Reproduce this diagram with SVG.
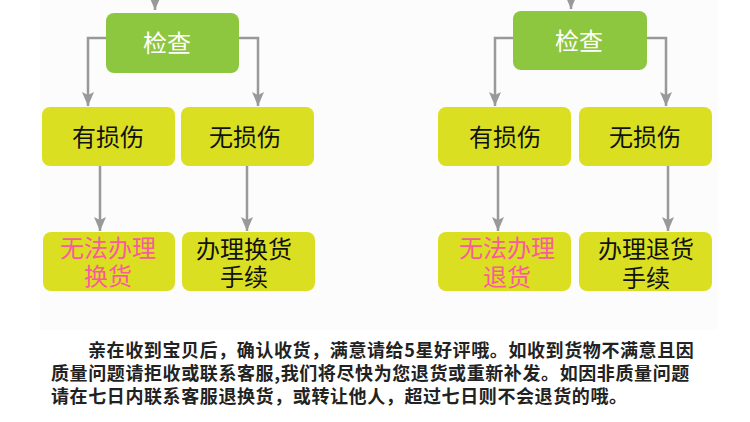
<svg xmlns="http://www.w3.org/2000/svg" width="750" height="422" viewBox="0 0 750 422">
<defs>
<style>
.g{fill:#8dc63f}
.y{fill:#dae021}
.t{font-family:"Noto Sans CJK SC","Noto Sans",sans-serif;font-size:24px;text-anchor:middle;fill:#111}
.w{fill:#ffffff}
.p{fill:#fa5a9e}
.c{fill:none;stroke:#999999;stroke-width:2.5}
.b{font-family:"Noto Sans CJK SC","Noto Sans",sans-serif;font-size:18px;font-weight:700;fill:#222;letter-spacing:0.6px}
</style>
<marker id="ah" viewBox="0 0 14 12" refX="14" refY="6" markerWidth="14" markerHeight="12" markerUnits="userSpaceOnUse" orient="auto">
<path d="M0,0 L14,6 L0,12 L3,6 z" fill="#999999"/>
</marker>
</defs>
<rect x="0" y="0" width="750" height="422" fill="#ffffff"/>
<rect x="40" y="0" width="678" height="330" fill="#fcfcfc"/>
<g id="connectors">
<path class="c" d="M155,-4 V10" marker-end="url(#ah)"/>
<path class="c" d="M106,38 H88 V106" marker-end="url(#ah)"/>
<path class="c" d="M239,38 H258 V106" marker-end="url(#ah)"/>
<path class="c" d="M100,166 V231" marker-end="url(#ah)"/>
<path class="c" d="M247,166 V231" marker-end="url(#ah)"/>
<path class="c" d="M571,-4 V9" marker-end="url(#ah)"/>
<path class="c" d="M513,38 H495 V106" marker-end="url(#ah)"/>
<path class="c" d="M647,38 H666 V106" marker-end="url(#ah)"/>
<path class="c" d="M498,166 V231" marker-end="url(#ah)"/>
<path class="c" d="M668,166 V231" marker-end="url(#ah)"/>
</g>
<g id="check-left"><rect class="g" x="106" y="13" width="133" height="60" rx="8"/><text class="t w" x="167" y="52">检查</text></g>
<g id="damaged-left"><rect class="y" x="42" y="107" width="133" height="59" rx="8"/><text class="t" x="108" y="146">有损伤</text></g>
<g id="undamaged-left"><rect class="y" x="181" y="107" width="133" height="59" rx="8"/><text class="t" x="245" y="146">无损伤</text></g>
<g id="no-exchange"><rect class="y" x="43" y="232" width="132" height="59" rx="8"/><text class="t p" x="108" y="257">无法办理</text><text class="t p" x="108" y="285">换货</text></g>
<g id="exchange"><rect class="y" x="182" y="232" width="133" height="59" rx="8"/><text class="t" x="244" y="258">办理换货</text><text class="t" x="244" y="286">手续</text></g>
<g id="check-right"><rect class="g" x="513" y="11" width="134" height="59" rx="8"/><text class="t w" x="579" y="50">检查</text></g>
<g id="damaged-right"><rect class="y" x="438" y="107" width="133" height="59" rx="8"/><text class="t" x="505" y="146">有损伤</text></g>
<g id="undamaged-right"><rect class="y" x="579" y="107" width="133" height="59" rx="8"/><text class="t" x="645" y="146">无损伤</text></g>
<g id="no-return"><rect class="y" x="438" y="232" width="133" height="59" rx="8"/><text class="t p" x="507" y="257">无法办理</text><text class="t p" x="507" y="286">退货</text></g>
<g id="return"><rect class="y" x="579" y="232" width="133" height="59" rx="8"/><text class="t" x="646" y="258">办理退货</text><text class="t" x="646" y="287">手续</text></g>
<g id="notice">
<text class="b" x="88" y="357">亲在收到宝贝后，确认收货，满意请给5星好评哦。如收到货物不满意且因</text>
<text class="b" x="51" y="380">质量问题请拒收或联系客服,我们将尽快为您退货或重新补发。如因非质量问题</text>
<text class="b" x="51" y="403">请在七日内联系客服退换货，或转让他人，超过七日则不会退货的哦。</text>
</g>
</svg>
